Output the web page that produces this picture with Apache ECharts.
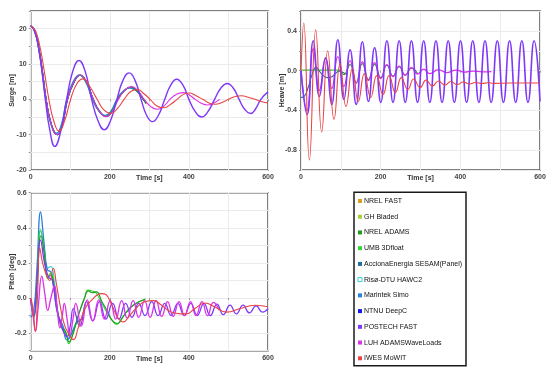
<!DOCTYPE html>
<html><head><meta charset="utf-8">
<script src="https://cdn.jsdelivr.net/npm/echarts@6/dist/echarts.min.js"></script>
<style>html,body{margin:0;padding:0;background:#fff}#c{width:550px;height:373px}</style>
</head><body><div id="c"></div><script>
// ---- Legend / models ----
const models = ['NREL FAST','GH Bladed','NREL ADAMS','UMB 3Dfloat','AccionaEnergia SESAM(Panel)','Risø-DTU HAWC2','Marintek Simo','NTNU DeepC','POSTECH FAST','LUH ADAMSWaveLoads','IWES MoWIT'];
const modelColors = ['#D6A21E','#A8CF38','#1F9A1F','#33D433','#1F6E9B','#2ED3D3','#2B80DB','#1616E0','#7F38FA','#DD30E8','#E84444'];

// ---- Axis ticks ----
const timeTicks = [0,200,400,600];
const surgeTicks = [-20,-10,0,10,20];
const heaveTicks = [-0.8,-0.4,0.0,0.4];
const pitchTicks = [-0.2,0.0,0.2,0.4,0.6];

// ---- Surge [m] (time s, value) ----
const surgeBase = [[0,20.8],[10,19.4],[20,14.8],[30,7.5],[39,0],[52,-7],[67,-10],[80,-7.2],[93,0],[109,4.8],[125,6.8],[142,4.6],[158,0],[174,-3.4],[190,-4.8],[205,-3.4],[220,0],[236,2.4],[253,3.4],[269,2.3],[285,0],[292,-1.1]];
const surgeVar = [[0,20.8],[10,19.2],[20,14.3],[30,6.8],[38,0],[51,-7],[65,-9.6],[78,-7],[91,0],[107,4.9],[123,6.9],[140,4.7],[156,0],[172,-3.3],[188,-4.6],[203,-3.3],[218,0],[234,2.3],[250,3.2],[262,2.6]];
const surgePostech = [[0,20.8],[10,19.2],[20,14.5],[30,6.5],[37,0],[48,-8.5],[61,-13.3],[75,-9.5],[91,0],[106,7.8],[122,11],[138,7.8],[154,0],[170,-6],[186,-8.6],[202,-6],[218,0],[233,5.3],[249,7.5],[264,5.3],[279,0],[293,-4.5],[308,-6.3],[323,-4.5],[339,0],[354,4],[369,5.7],[385,4],[400,0],[416,-3.5],[432,-5],[448,-3.5],[465,0],[481,3.2],[497,4.5],[512,3.2],[527,0],[541,-2.8],[556,-4],[568,-2.8],[582,0],[600,2.1]];
const surgeLuh = [[0,20.8],[10,19.4],[20,14.8],[30,7.4],[39,0],[52,-7],[67,-10],[80,-7.2],[93,0],[109,4.9],[125,6.9],[142,4.7],[158,0],[174,-3.4],[190,-4.9],[206,-3.5],[222,0],[238,2.6],[255,3.6],[271,2.5],[287,0],[303,-2.0],[320,-2.8],[336,-2.0],[352,0],[368,1.4],[385,1.9],[400,1.3],[416,0],[431,-1.1],[447,-1.6],[462,-1.1],[478,0]];
const surgeIwes = [[0,20.8],[12,19.5],[24,14.5],[35,7.5],[46,0],[58,-6],[72,-9],[86,-6],[101,0],[117,4.5],[133,5.8],[150,3.5],[168,0],[185,-3],[203,-4],[220,-2.5],[236,0],[253,2.2],[270,2.8],[287,1.5],[302,0],[318,-1.8],[337,-2.4],[355,-1.3],[370,0],[386,1.4],[400,1.8],[418,1.0],[435,0],[452,-1.1],[466,-1.4],[485,-0.8],[500,0],[517,0.8],[533,1.0],[550,0.6],[567,0],[585,-0.7],[600,-1.0]];

// ---- Heave [m] ----
const heaveUmb = [[0,0.005],[50,0.005],[100,0.005]];
const heaveAcciona = [[0,-0.27],[8,-0.26],[18,-0.17],[27,-0.05],[38,0.033],[47,-0.01],[56,-0.05],[66,-0.07],[76,-0.065],[86,-0.03],[97,-0.005],[106,-0.02],[113,-0.03],[118,-0.03]];
const heaveAdams = [[100,0.0],[108,-0.04],[123.2,0.06],[138.6,-0.12],[154,0.07],[169.4,-0.09],[184.8,0.065],[200.2,-0.07],[215.6,0.055],[231,-0.055],[246.4,0.04],[261.8,-0.045],[277.2,0.025],[292.6,-0.03]];
const heavePostech = [[0,0],[15.4,-0.44],[30.8,0.30],[46.2,-0.26],[61.6,0.13],[77,-0.34],[92.4,0.31],[107.8,-0.29],[123.2,0.21],[138.6,-0.34],[154,0.29],[169.4,-0.31],[184.8,0.23],[200.2,-0.32],[215.6,0.30],[231,-0.32],[246.4,0.30],[261.8,-0.32],[277.2,0.30],[292.6,-0.32],[308,0.30],[323.4,-0.32],[338.8,0.30],[354.2,-0.32],[369.6,0.30],[385,-0.32],[400.4,0.30],[415.8,-0.32],[431.2,0.30],[446.6,-0.32],[462,0.30],[477.4,-0.32],[492.8,0.30],[508.2,-0.32],[523.6,0.30],[539,-0.32],[554.4,0.30],[569.8,-0.32],[585.2,0.30],[600,-0.31]];
const heaveLuh = [[0,0],[15.4,-0.40],[30.8,0.22],[46.2,-0.20],[61.6,0.12],[77,-0.18],[92.4,0.14],[107.8,-0.16],[123.2,0.10],[138.6,-0.13],[154,0.09],[169.4,-0.10],[184.8,0.08],[200.2,-0.08],[215.6,0.06],[231,-0.06],[246.4,0.045],[261.8,-0.045],[277.2,0.03],[292.6,-0.035],[308,0.015],[323.4,-0.03],[345,0.01],[365,-0.02],[390,0.005],[410,-0.015],[430,-0.005],[455,-0.012],[478,-0.01]];
const heaveIwes = [[0,0.0],[7,0.48],[21,-0.90],[37,0.41],[52,-0.62],[67,0.20],[83,-0.49],[98,0.07],[113,-0.36],[129,0.02],[144,-0.31],[159,-0.03],[175,-0.27],[190,-0.05],[206,-0.24],[221,-0.05],[237,-0.22],[252,-0.07],[268,-0.19],[283,-0.085],[299,-0.17],[314,-0.095],[330,-0.155],[345,-0.105],[361,-0.145],[376,-0.11],[392,-0.14],[407,-0.115],[423,-0.135],[438,-0.12],[454,-0.13],[469,-0.122],[485,-0.128],[520,-0.125],[600,-0.125]];

// ---- Pitch [deg] ----
const pitchRiso = [[0,-0.03],[8,-0.10],[16,0.12],[25,0.38],[34,0.29],[42,0.17],[51,0.18],[60,0.09],[72,-0.12],[84,-0.17],[95,-0.23],[105,-0.19],[115,-0.14],[125,-0.12]];
const pitchMarintek = [[0,-0.11],[8,-0.07],[16,0.18],[25,0.49],[33,0.33],[42,0.16],[50,0.15],[58,0.06],[68,-0.09],[80,-0.15],[92,-0.24],[102,-0.21],[112,-0.16],[122,-0.13],[130,-0.12]];
const pitchUmb = [[0,-0.01],[8,-0.10],[16,0.10],[25,0.39],[34,0.27],[43,0.11],[51,0.145],[60,0.06],[70,-0.11],[80,-0.18],[90,-0.20],[96,-0.26],[105,-0.22],[115,-0.14],[125,-0.07],[135,-0.01],[145,0.045],[155,0.04],[165,0.03],[180,-0.03],[195,-0.09],[207,-0.13],[217,-0.15],[230,-0.12],[245,-0.07],[260,-0.04],[275,-0.02],[290,-0.01]];
const pitchAdams = [[0,0.0],[8,-0.11],[16,0.08],[26,0.355],[35,0.24],[43,0.12],[51,0.13],[60,0.05],[70,-0.10],[80,-0.17],[88,-0.19],[97,-0.25],[106,-0.21],[116,-0.13],[126,-0.06],[136,0.0],[146,0.04],[156,0.03],[166,0.035],[180,-0.02],[195,-0.08],[207,-0.13],[219,-0.145],[232,-0.11],[246,-0.07],[260,-0.04],[275,-0.02],[290,-0.005]];
const pitchPostech = [[0,-0.01],[8,-0.10],[16,0.10],[25,0.33],[35,0.20],[45,0.12],[55,0.10],[65,-0.05],[78,-0.16],[92,-0.22],[100,-0.16],[108,-0.06],[124,-0.16],[141,-0.02],[157,-0.13],[174,-0.02],[190,-0.12],[207,-0.03],[223,-0.12],[240,-0.03],[256,-0.11],[273,-0.03],[289,-0.10],[306,-0.02],[322,-0.10],[339,-0.03],[355,-0.10],[372,-0.03],[388,-0.10],[405,-0.03],[421,-0.10],[438,-0.03],[454,-0.10],[471,-0.035],[487,-0.095],[504,-0.04],[520,-0.09],[537,-0.04],[553,-0.085],[570,-0.045],[586,-0.08],[600,-0.06]];
const pitchLuh = [[0,0.0],[6,-0.10],[12,-0.19],[19,-0.05],[28,0.124],[36,0.02],[43,-0.07],[51,0.0],[60,0.07],[67,-0.06],[74,-0.17],[80,-0.10],[85,-0.03],[92,-0.12],[99,-0.21],[107,-0.12],[114,-0.03],[128,-0.16],[143,-0.01],[157,-0.13],[172,-0.01],[186,-0.12],[201,-0.015],[215,-0.12],[230,-0.015],[244,-0.115],[259,-0.015],[273,-0.11],[288,-0.015],[302,-0.11],[317,-0.015],[331,-0.105],[346,-0.02],[360,-0.105],[375,-0.02],[389,-0.10],[404,-0.02],[418,-0.10],[433,-0.02],[447,-0.10],[462,-0.025],[477,-0.07]];
const pitchIwes = [[0,0.0],[5,-0.05],[12,-0.19],[17,0.0],[23,0.285],[30,0.20],[40,0.13],[48,0.10],[57,0.17],[65,0.08],[75,-0.05],[85,-0.15],[95,-0.20],[108,-0.237],[120,-0.17],[130,-0.10],[140,-0.05],[155,-0.01],[170,0.02],[180,0.025],[190,0.02],[205,-0.04],[220,-0.11],[234,-0.136],[250,-0.10],[270,-0.05],[290,-0.02],[310,-0.015],[330,-0.04],[355,-0.08],[380,-0.09],[394,-0.09],[415,-0.06],[441,-0.028],[465,-0.05],[495,-0.08],[530,-0.06],[567,-0.041],[600,-0.05]];

// ---- build ----
const colorOf = {};
models.forEach((m,i)=>colorOf[m]=modelColors[i]);
const FONT = 'Liberation Sans';

function mk(name, idx, data, width, z){
  return {name, type:'line', xAxisIndex:idx, yAxisIndex:idx, data, symbol:'none', showSymbol:false,
    smooth:0.5, lineStyle:{width:width||1.1, color:colorOf[name]}, itemStyle:{color:colorOf[name]},
    emphasis:{disabled:true}, silent:true, z:z||2};
}
const series = [
  // surge (panel 0)
  mk('NREL FAST',0,surgeBase),mk('GH Bladed',0,surgeBase),mk('UMB 3Dfloat',0,surgeBase),
  mk('AccionaEnergia SESAM(Panel)',0,surgeBase),mk('NTNU DeepC',0,surgeBase),
  mk('Risø-DTU HAWC2',0,surgeVar),mk('Marintek Simo',0,surgeVar),mk('NREL ADAMS',0,surgeBase),
  mk('LUH ADAMSWaveLoads',0,surgeLuh),mk('POSTECH FAST',0,surgePostech,1.4),mk('IWES MoWIT',0,surgeIwes),
  // heave (panel 1)
  mk('UMB 3Dfloat',1,heaveUmb),mk('AccionaEnergia SESAM(Panel)',1,heaveAcciona),mk('NREL ADAMS',1,heaveAdams),
  mk('LUH ADAMSWaveLoads',1,heaveLuh,1.3),mk('POSTECH FAST',1,heavePostech,1.6),mk('IWES MoWIT',1,heaveIwes,1.1),
  // pitch (panel 2)
  mk('Risø-DTU HAWC2',2,pitchRiso),mk('Marintek Simo',2,pitchMarintek,1.3),mk('UMB 3Dfloat',2,pitchUmb),
  mk('NREL ADAMS',2,pitchAdams),mk('POSTECH FAST',2,pitchPostech,1.3),mk('LUH ADAMSWaveLoads',2,pitchLuh,1.3),
  mk('IWES MoWIT',2,pitchIwes)
];

const grids = [
  {left:30.7, top:11, width:237.3, height:159},
  {left:301, top:11, width:239, height:159},
  {left:30.7, top:192.7, width:237.3, height:158}
].map(g=>Object.assign(g,{show:true, borderColor:'#555555', borderWidth:1.5, backgroundColor:'#fff', containLabel:false}));

const tickLabel = {fontSize:7, fontFamily:FONT, fontWeight:'bold', color:'#444'};
const nameStyle = {fontSize:7, fontFamily:FONT, color:'#333', fontWeight:'bold'};
function xAx(i){
  return {type:'value', gridIndex:i, min:0, max:600, interval:100, name:'Time [s]', nameLocation:'middle', nameGap:5,
    nameMoveOverlap:false, nameTextStyle:nameStyle,
    axisLine:{show:false}, axisTick:{show:true, length:2, lineStyle:{color:'#999'}},
    splitLine:{show:true, lineStyle:{color:'#ebebeb', width:1}},
    axisLabel:Object.assign({margin:3.5, formatter:v=>timeTicks.includes(v)?String(v):''}, tickLabel)};
}
function yAx(i, min, max, interval, name, ticks, dec){
  return {type:'value', gridIndex:i, min, max, interval, name, nameLocation:'middle', nameGap:15,
    nameMoveOverlap:false, nameTextStyle:nameStyle,
    axisLine:{show:false}, axisTick:{show:true, length:2, lineStyle:{color:'#999'}},
    splitLine:{show:true, lineStyle:{color:'#ebebeb', width:1}},
    axisLabel:Object.assign({margin:4, formatter:v=>{
      const hit = ticks.find(t=>Math.abs(t-v)<1e-6);
      return hit===undefined ? '' : hit.toFixed(dec);
    }}, tickLabel)};
}

const legendData = models.map(m=> m==='Risø-DTU HAWC2'
  ? {name:m, itemStyle:{color:'#ffffff', borderColor:colorOf[m], borderWidth:1}}
  : {name:m});

const chart = echarts.init(document.getElementById('c'), null, {renderer:'canvas'});
chart.setOption({
  animation:false,
  backgroundColor:'#ffffff',
  grid:grids,
  xAxis:[xAx(0),xAx(1),xAx(2)],
  yAxis:[yAx(0,-20,25,5,'Surge [m]',surgeTicks,0), yAx(1,-1.0,0.6,0.2,'Heave [m]',heaveTicks,1), yAx(2,-0.3,0.6,0.1,'Pitch [deg]',pitchTicks,1)],
  legend:{orient:'vertical', left:357.5, top:196, padding:0, icon:'rect', itemWidth:4, itemHeight:4, itemGap:5.73,
    selectedMode:false, data:legendData,
    textStyle:{fontSize:7, fontFamily:FONT, color:'#111', lineHeight:10, padding:[0,0,0,-3]}},
  graphic:[{type:'rect', shape:{x:354, y:192.3, width:112, height:173.4}, style:{fill:'none', stroke:'#1a1a1a', lineWidth:1.5}, z:100, silent:true}],
  series
});
</script></body></html>
